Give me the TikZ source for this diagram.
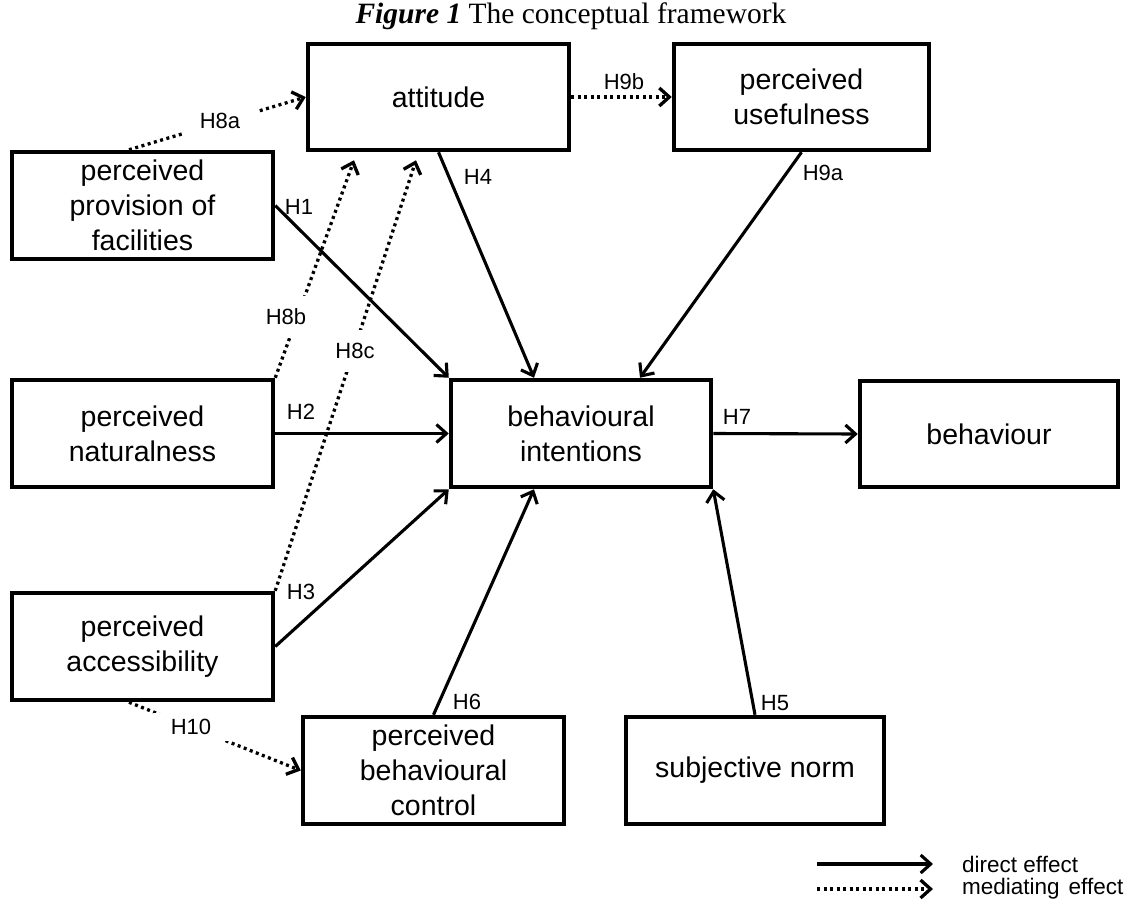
\documentclass[tikz,border=0pt]{standalone}
\usepackage{fontspec}
\setmainfont{Liberation Sans}
\newfontfamily\titlefont{Liberation Serif}
\usetikzlibrary{arrows.meta}
\tikzset{
  box/.style={draw,line width=4.5pt,align=center,inner sep=0pt,
    font=\fontsize{28.5}{35}\selectfont},
  tipv/.tip={Straight Barb[length=10pt,width=18pt]},
  direct/.style={line width=3.1pt,-tipv},
  mediating/.style={line width=3.3pt,dash pattern=on 3pt off 3.5pt,-tipv},
  lbl/.style={font=\fontsize{22}{26}\selectfont,inner sep=1pt},
  gaplbl/.style={lbl,fill=white},
  legendtext/.style={font=\fontsize{22.5}{26}\selectfont,inner sep=0pt,anchor=west}
}
\begin{document}
\begin{tikzpicture}[x=1pt,y=-1pt]
\useasboundingbox (0,0) rectangle (1130,913);

% title
\node[font=\titlefont\fontsize{29.5}{34}\selectfont,anchor=base,inner sep=0pt] (title) at (571,23)
  {\textbf{\textit{Figure 1}} The conceptual framework};

% boxes
\node[box,minimum width=261pt,minimum height=106pt] (att) at (438.5,97) {attitude};
\node[box,minimum width=255pt,minimum height=106pt] (pu) at (801.5,97) {perceived\\usefulness};
\node[box,minimum width=261pt,minimum height=107pt] (prov) at (142.5,205.5) {perceived\\provision of\\facilities};
\node[box,minimum width=261pt,minimum height=107pt] (nat) at (142.5,433.5) {perceived\\naturalness};
\node[box,minimum width=260pt,minimum height=107pt] (bi) at (581,433.5) {behavioural\\intentions};
\node[box,minimum width=258pt,minimum height=106pt] (beh) at (989,434) {behaviour};
\node[box,minimum width=261pt,minimum height=107pt] (acc) at (142.5,646.5) {perceived\\accessibility};
\node[box,minimum width=261pt,minimum height=107pt] (pbc) at (433.5,770.5) {perceived\\behavioural\\control};
\node[box,minimum width=258pt,minimum height=107pt] (sn) at (755,770.5) {subjective norm};

% direct effects
\draw[direct] (prov.east) -- (bi.north west);
\draw[direct] (nat.east) -- (bi.west);
\draw[direct] (acc.east) -- (bi.south west);
\draw[direct] (att.south) -- ([xshift=-47pt]bi.north);
\draw[direct] (pu.south) -- ([xshift=59pt]bi.north);
\draw[direct] (bi.east) -- (beh.west);
\draw[direct] (pbc.north) -- ([xshift=-47pt]bi.south);
\draw[direct] (sn.north) -- (bi.south east);

% mediating effects
\draw[mediating] ([xshift=-13.5pt]prov.north) -- (att.west);
\draw[mediating] (nat.north east) -- ([xshift=-84.5pt,yshift=-8pt]att.south);
\draw[mediating] (acc.north east) -- ([xshift=-22.5pt,yshift=-8pt]att.south);
\draw[mediating] (att.east) -- (pu.west);
\draw[mediating] ([xshift=-13.5pt]acc.south) -- (pbc.west);

% labels
\node[gaplbl,inner xsep=18pt,inner ysep=6pt] (h8a) at (220,121) {H8a};
\node[gaplbl,inner xsep=3pt,inner ysep=13pt] (h8b) at (286,317) {H8b};
\node[gaplbl,inner xsep=3pt,inner ysep=13pt] (h8c) at (355,351) {H8c};
\node[gaplbl,inner xsep=18pt,inner ysep=6pt] (h10) at (191,727) {H10};
\node[lbl] (h1) at (299,207) {H1};
\node[lbl] (h2) at (301,412) {H2};
\node[lbl] (h3) at (301,592) {H3};
\node[lbl] (h4) at (478,177) {H4};
\node[lbl] (h5) at (775,703) {H5};
\node[lbl] (h6) at (467,702) {H6};
\node[lbl] (h7) at (737,417) {H7};
\node[lbl] (h9a) at (823,173) {H9a};
\node[lbl] (h9b) at (624,82) {H9b};

% legend
\coordinate (l1s) at (817,864);
\coordinate (l1e) at (933,864);
\coordinate (l2s) at (817,889);
\coordinate (l2e) at (933,889);
\draw[direct] (l1s) -- (l1e);
\draw[mediating] (l2s) -- (l2e);
\node[legendtext] (leg1) at (962,864) {direct effect};
\node[legendtext] (leg2) at (962,889) {mediating\hspace{0.4em}effect};
\end{tikzpicture}
\end{document}
